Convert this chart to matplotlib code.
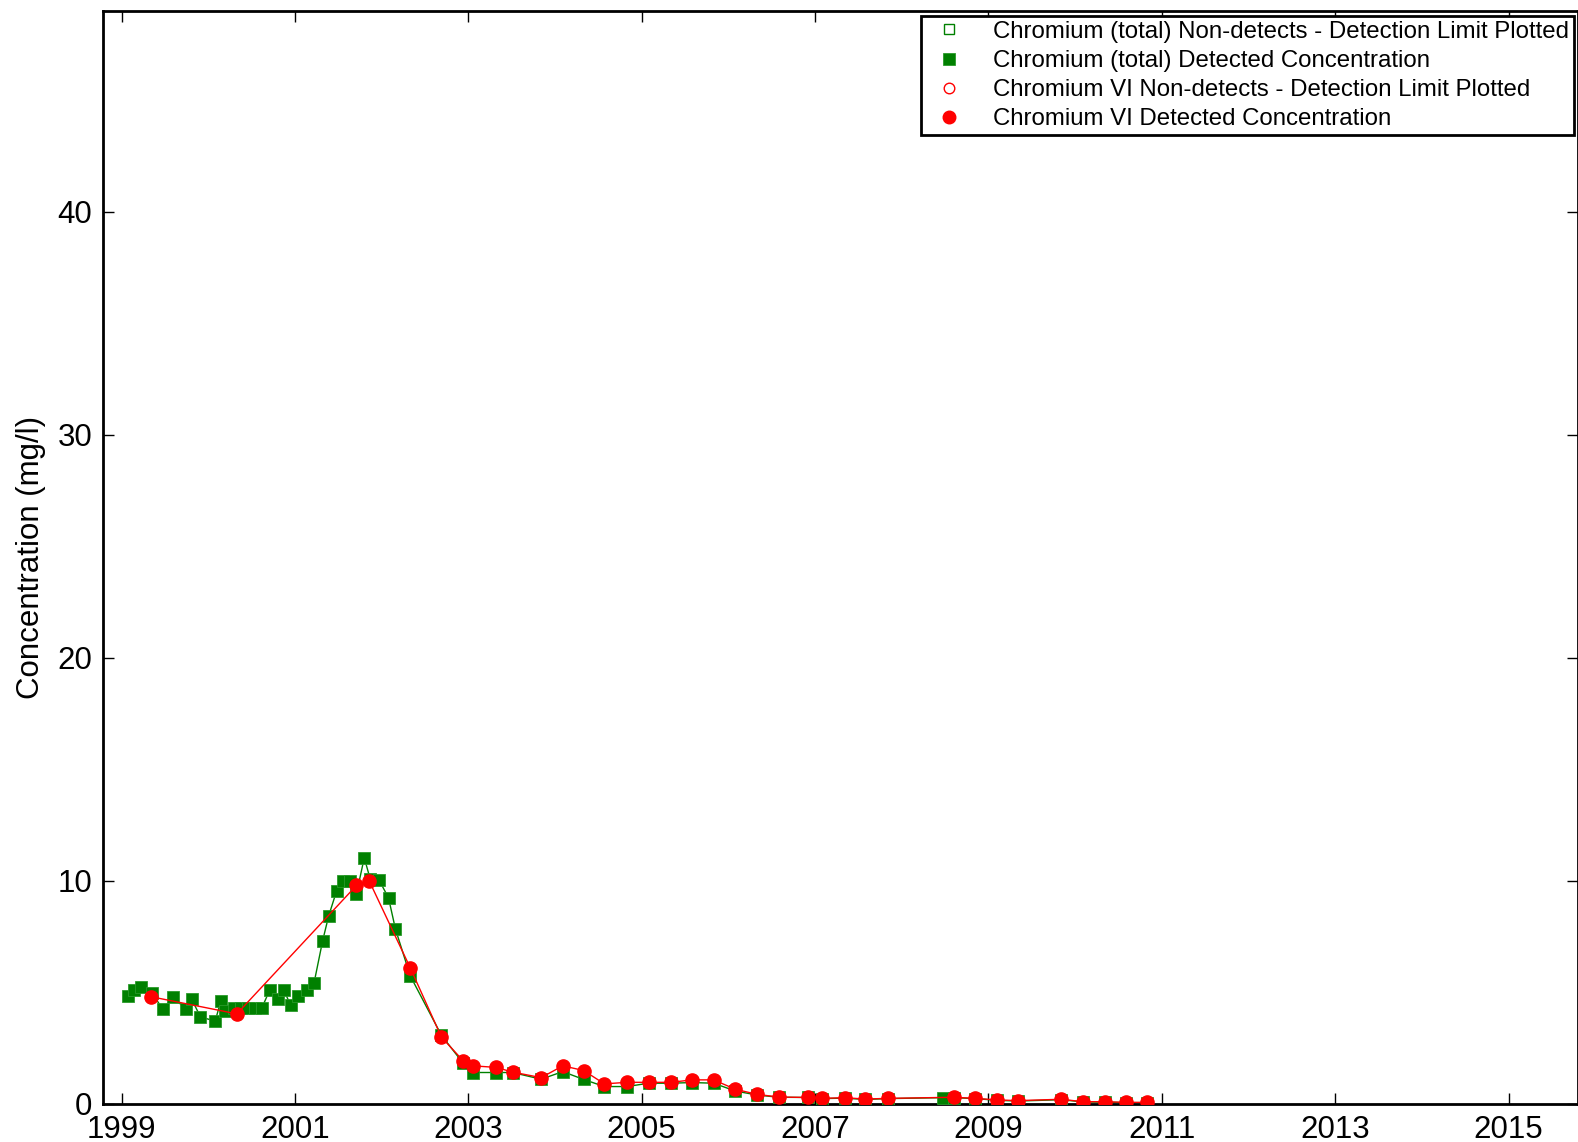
import matplotlib
matplotlib.use("Agg")
import matplotlib.pyplot as plt

plt.rcParams['font.family'] = ['Liberation Sans', 'DejaVu Sans']

# Chromium (total) detected concentrations (decimal year, mg/l)
cr_total_dates = [1999.07, 1999.145, 1999.23, 1999.35, 1999.48, 1999.59, 1999.745, 1999.81,
                  1999.91, 2000.08, 2000.145, 2000.195, 2000.30, 2000.38, 2000.46, 2000.54,
                  2000.62, 2000.71, 2000.81, 2000.87, 2000.95, 2001.04, 2001.14, 2001.22,
                  2001.32, 2001.39, 2001.48, 2001.56, 2001.64, 2001.71, 2001.80, 2001.87,
                  2001.97, 2002.08, 2002.16, 2002.33, 2002.69, 2002.94, 2003.05, 2003.32,
                  2003.51, 2003.84, 2004.09, 2004.33, 2004.57, 2004.83, 2005.08, 2005.34,
                  2005.58, 2005.83, 2006.08, 2006.33, 2006.58, 2006.92, 2007.08, 2007.34,
                  2007.58, 2007.84, 2008.47, 2008.60, 2008.85, 2009.10, 2009.34, 2009.84,
                  2010.09, 2010.34, 2010.59, 2010.83]
cr_total_values = [4.82, 5.09, 5.22, 4.95, 4.22, 4.79, 4.22, 4.67,
                   3.89, 3.69, 4.59, 4.14, 4.30, 4.30, 4.30, 4.30,
                   4.30, 5.09, 4.70, 5.10, 4.42, 4.80, 5.09, 5.39,
                   7.30, 8.42, 9.52, 10.0, 10.0, 9.40, 11.02, 10.05,
                   10.03, 9.22, 7.82, 5.73, 3.06, 1.81, 1.39, 1.39,
                   1.39, 1.09, 1.43, 1.08, 0.76, 0.76, 0.91, 0.91,
                   0.94, 0.91, 0.56, 0.38, 0.28, 0.27, 0.22, 0.24,
                   0.18, 0.22, 0.26, 0.26, 0.22, 0.14, 0.11, 0.17,
                   0.07, 0.06, 0.04, 0.04]

# Chromium VI detected concentrations
cr6_dates = [1999.34, 2000.33, 2001.71, 2001.86, 2002.33, 2002.69, 2002.94, 2003.05,
             2003.32, 2003.51, 2003.84, 2004.09, 2004.33, 2004.57, 2004.83, 2005.08,
             2005.34, 2005.58, 2005.83, 2006.08, 2006.33, 2006.58, 2006.92, 2007.08,
             2007.34, 2007.58, 2007.84, 2008.60, 2008.85, 2009.10, 2009.34, 2009.84,
             2010.09, 2010.34, 2010.59, 2010.83]
cr6_values = [4.79, 4.02, 9.78, 9.96, 6.09, 2.98, 1.92, 1.69,
              1.62, 1.41, 1.16, 1.69, 1.48, 0.88, 0.95, 0.95,
              0.95, 1.06, 1.06, 0.64, 0.41, 0.29, 0.27, 0.23,
              0.26, 0.20, 0.23, 0.28, 0.23, 0.16, 0.13, 0.19,
              0.08, 0.08, 0.05, 0.05]

# Non-detects (none in this record)
cr_total_nd_dates, cr_total_nd_values = [], []
cr6_nd_dates, cr6_nd_values = [], []

x_ticks = [1999, 2001, 2003, 2005, 2007, 2009, 2011, 2013, 2015]
y_ticks = [0, 10, 20, 30, 40]

W, H = 1578, 1142
fig = plt.figure(figsize=(W / 100, H / 100), dpi=100)
ax = fig.add_axes([103.3 / W, 38.5 / H, 1 - 103.3 / W, (1103.5 - 11) / H])

ax.plot(cr_total_dates, cr_total_values, '-', color='green', lw=1.0, zorder=2)
ax.plot(cr_total_nd_dates, cr_total_nd_values, 's', ms=8, mfc='white', mec='green',
        label='Chromium (total) Non-detects - Detection Limit Plotted', zorder=3)
ax.plot(cr_total_dates, cr_total_values, 's', ms=8.5, color='green', mec='#2a9a2a', mew=0.6,
        label='Chromium (total) Detected Concentration', zorder=3)

ax.plot(cr6_dates, cr6_values, '-', color='red', lw=1.0, zorder=4)
ax.plot(cr6_nd_dates, cr6_nd_values, 'o', ms=8, mfc='white', mec='red',
        label='Chromium VI Non-detects - Detection Limit Plotted', zorder=5)
ax.plot(cr6_dates, cr6_values, 'o', ms=9.5, color='red', mec='red',
        label='Chromium VI Detected Concentration', zorder=5)

ax.set_xlim(1998.79, 2015.80)
ax.set_ylim(0, 49)
ax.set_xticks(x_ticks)
ax.set_xticklabels([str(t) for t in x_ticks])
ax.set_yticks(y_ticks)
ax.tick_params(direction='in', length=8, width=1.0, labelsize=22.5,
               top=True, right=True, pad=8)
ax.tick_params(axis='x', pad=8)
for s in ax.spines.values():
    s.set_linewidth(2.0)
ax.set_ylabel('Concentration (mg/l)', fontsize=22.5, labelpad=8)

leg = ax.legend(loc='upper right', bbox_to_anchor=(1574 / W, 1 - 16 / H),
                bbox_transform=fig.transFigure, borderaxespad=0,
                fontsize=17.25, numpoints=1, markerscale=0.95,
                handlelength=1.95, handletextpad=0.85, borderpad=0.2,
                labelspacing=0.3, fancybox=False, framealpha=1)
leg.get_frame().set_edgecolor('black')
leg.get_frame().set_linewidth(2.0)

fig.savefig('out.png', dpi=100)
